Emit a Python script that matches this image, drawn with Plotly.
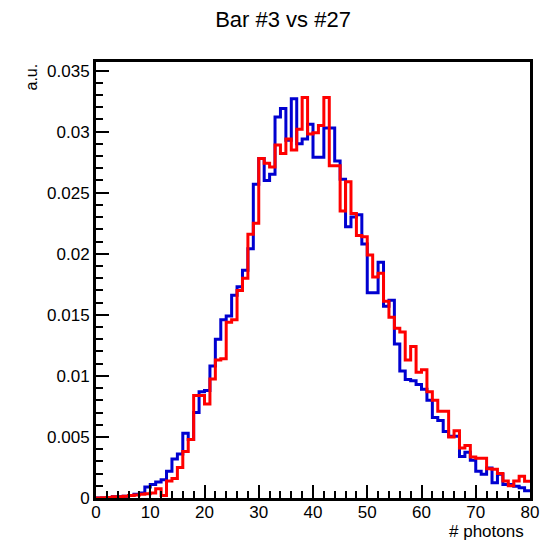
import plotly.graph_objects as go

# ---------------- data ----------------
bin_edges = list(range(0, 81))          # 80 bins of width 1 photon
value_unit = 1e-3                       # values below are given in units of 0.001

blue_vals = [0, 0, 0.05, 0.1, 0.1, 0.15, 0.2, 0.3, 0.4, 0.9,
             1.1, 1.3, 1.5, 2.2, 3.2, 3.6, 5.3, 4.8, 7.0, 8.7,
             8.8, 10.8, 13.0, 14.6, 14.9, 16.6, 17.3, 18.65, 20.4, 25.7,
             27.8, 26.0, 26.5, 31.2, 31.9, 29.3, 32.7, 29.0, 29.4, 30.6,
             27.9, 27.9, 30.3, 30.3, 27.6, 26.1, 22.2, 23.0, 23.2, 20.8,
             16.8, 16.8, 19.3, 15.7, 16.2, 12.6, 10.4, 9.7, 9.6, 9.3,
             8.9, 8.0, 6.6, 6.35, 5.45, 5.05, 5.05, 3.4, 3.75, 3.1,
             2.2, 1.95, 2.45, 1.24, 1.95, 1.1, 1.1, 0.96, 0.83, 0.6]

red_vals = [0, 0.02, 0.05, 0.1, 0.1, 0.15, 0.2, 0.25, 0.3, 0.35,
            0.4, 0.75, 0.2, 1.4, 1.6, 2.5, 3.8, 4.8, 8.4, 8.4,
            7.7, 9.75, 11.3, 11.4, 14.4, 14.6, 17.0, 18.0, 21.6, 22.5,
            27.8, 27.4, 27.1, 28.9, 28.2, 29.4, 28.5, 30.2, 32.8, 29.8,
            29.9, 30.5, 32.8, 27.2, 27.2, 23.5, 25.9, 23.3, 21.5, 21.4,
            19.9, 18.1, 18.4, 16.1, 14.8, 13.9, 13.6, 11.3, 12.4, 10.3,
            10.5, 8.7, 8.0, 7.1, 7.1, 5.0, 5.5, 4.1, 4.3, 3.35,
            3.25, 3.25, 2.4, 2.35, 2.0, 1.4, 1.0, 1.4, 1.78, 1.37]

x_tickvals = [0, 10, 20, 30, 40, 50, 60, 70, 80]
y_tickvals = [0, 0.005, 0.01, 0.015, 0.02, 0.025, 0.03, 0.035]
y_ticktext = ["0", "0.005", "0.01", "0.015", "0.02", "0.025", "0.03", "0.035"]

title_text = "Bar #3 vs #27"
x_title = "# photons"
y_title = "a.u."

# ---------------- figure ----------------
FONT = "Liberation Sans, Arial, Helvetica, sans-serif"
BODY = 8          # default page margin of the html body
W, H = 560 - BODY, 544 - BODY

def steps(vals):
    ys = [v * value_unit for v in vals]
    return ys + [ys[-1]]

fig = go.Figure()
fig.add_trace(go.Scatter(x=bin_edges, y=steps(blue_vals), mode="lines",
                         line=dict(color="#0000d0", width=3, shape="hv"),
                         showlegend=False, hoverinfo="skip"))
fig.add_trace(go.Scatter(x=bin_edges, y=steps(red_vals), mode="lines",
                         line=dict(color="#ff0000", width=3, shape="hv"),
                         showlegend=False, hoverinfo="skip"))

axis_common = dict(showline=True, linewidth=3, linecolor="black", mirror=True,
                   ticks="inside", ticklen=13, tickwidth=2, tickcolor="black",
                   showgrid=False, zeroline=False,
                   tickfont=dict(family=FONT, size=17, color="black"))

fig.update_xaxes(range=[0, 80], tickvals=x_tickvals, ticklabelstandoff=-3,
                 minor=dict(dtick=2, tick0=0, ticks="inside", ticklen=7,
                            tickwidth=2, tickcolor="black", showgrid=False),
                 **axis_common)
fig.update_yaxes(range=[0, 0.0357], tickvals=y_tickvals, ticktext=y_ticktext,
                 minor=dict(dtick=0.001, tick0=0, ticks="inside", ticklen=7,
                            tickwidth=2, tickcolor="black", showgrid=False),
                 **axis_common)

# plot frame wanted at page x 96..530, y 62..498
fig.update_layout(
    width=W, height=H,
    margin=dict(l=96 - BODY, r=560 - 530, t=62 - BODY, b=544 - 498, pad=0),
    paper_bgcolor="white", plot_bgcolor="white",
    title=dict(text=title_text, x=(283 - BODY) / W, xref="container", xanchor="center",
               y=1 - (19 - BODY) / H, yref="container", yanchor="middle",
               font=dict(family=FONT, size=22, color="black")),
    annotations=[
        dict(text=x_title, xref="paper", yref="paper",
             x=(526 - 96) / 434, y=-(531 - 498) / 436,
             xanchor="right", yanchor="middle", showarrow=False,
             font=dict(family=FONT, size=17, color="black")),
        dict(text=y_title, xref="paper", yref="paper",
             x=(31 - 96) / 434, y=1.0, textangle=-90,
             xanchor="center", yanchor="top", showarrow=False,
             font=dict(family=FONT, size=16, color="black")),
    ],
)

fig.write_html("out.html")
